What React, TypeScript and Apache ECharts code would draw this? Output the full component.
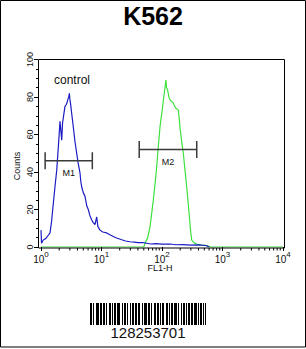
import React, { useEffect, useRef } from "react";
import * as echarts from "echarts";

const title = "K562";
const xAxisName = "FL1-H";
const yAxisName = "Counts";
const controlLabel = "control";
const barcodeText = "128253701";

// control (blue) histogram: [FL1-H, counts]
const controlData: [number, number][] = [
  [1.0, 9], [1.02, 2], [1.09, 3.7], [1.2, 4.5], [1.3, 6], [1.41, 7.5], [1.5, 14], [1.6, 23.5],
  [1.7, 32], [1.82, 41], [1.95, 55], [2.06, 67], [2.13, 62], [2.2, 57], [2.27, 66], [2.34, 69],
  [2.49, 75], [2.62, 76], [2.72, 77.5], [2.8, 79], [2.88, 80], [2.94, 82], [3.0, 79], [3.1, 75.7],
  [3.25, 70], [3.42, 64], [3.65, 56], [3.89, 50], [4.1, 45], [4.41, 39.5], [4.55, 35], [4.71, 32],
  [5.0, 29], [5.34, 27], [5.7, 22], [6.05, 20], [6.4, 17], [6.89, 14.4], [7.3, 13], [7.8, 12],
  [8.33, 16], [8.7, 11], [9.44, 9], [10.5, 8], [12.2, 7.5], [14, 6.4], [16, 5.5], [17.8, 4.8],
  [21, 4], [25, 3.2], [29.6, 2.8], [35, 2.6], [40, 2.3], [48, 2.4], [55.8, 2], [65, 1.6],
  [80, 1.8], [100, 1.5], [135, 1.6], [170, 1.2], [220, 1.3], [300, 1.0], [400, 1.1], [535, 0.8],
  [600, 0],
];

// sample (green) histogram
const sampleData: [number, number][] = [
  [1, 0], [50, 0], [52.4, 2], [58, 5], [63.4, 10.8], [67, 17], [71.8, 25], [77, 34], [81.7, 42.8],
  [87, 54], [92.7, 64], [97, 69], [101, 73], [105, 78], [109, 82], [113, 86], [116, 89], [119, 85],
  [124, 83.7], [130, 80], [136, 78.4], [145, 77.5], [154, 76.8], [162, 75], [170, 74], [186, 73],
  [192, 69], [198, 64], [210, 57], [225, 50], [240, 41], [256, 32], [270, 24], [283, 16.4],
  [296, 9], [310, 3.7], [340, 2.2], [375, 1.6], [450, 1.0], [548, 0.7], [650, 0], [10000, 0],
];

const markerNames = ["M1", "M2"];
const markerStart = [1.17, 42];
const markerEnd = [7.05, 375];
const markerLevel = [46, 52];

const minorTickValues: number[] = [];
[1, 10, 100, 1000].forEach((d) => {
  [2, 3, 4, 5, 6, 7, 8, 9].forEach((m) => minorTickValues.push(d * m));
});

const barcodePattern =
  "11010011101101101001101011011100101101001011011011001011101101001101101011001101011011101001011010110110111010110101";

const FONT = "'Liberation Sans', Arial, sans-serif";

export default function App() {
  const ref = useRef<HTMLDivElement>(null);
  useEffect(() => {
    if (!ref.current) return;
    const chart = echarts.init(ref.current, undefined, { renderer: "svg" });

    const barcodeRects: any[] = [];
    let i = 0;
    while (i < barcodePattern.length) {
      if (barcodePattern[i] === "1") {
        let j = i;
        while (j < barcodePattern.length && barcodePattern[j] === "1") j++;
        barcodeRects.push({
          type: "rect",
          shape: { x: 90 + i, y: 303, width: j - i, height: 22 },
          style: { fill: "#000" },
        });
        i = j;
      } else i++;
    }

    chart.setOption({
      animation: false,
      backgroundColor: "#fff",
      textStyle: { fontFamily: FONT },
      grid: { left: 41, right: 23, top: 59.5, bottom: 102 },
      xAxis: {
        type: "log",
        logBase: 10,
        min: 1,
        max: 10000,
        offset: 1,
        axisLine: { show: false },
        splitLine: { show: false },
        axisTick: { show: true, length: 4, lineStyle: { color: "#000" } },
        axisLabel: {
          margin: 2,
          formatter: (v: number) => `{b|10}{s|${Math.round(Math.log10(v))}}`,
          rich: {
            b: { fontSize: 10, color: "#111", fontFamily: FONT, lineHeight: 14, verticalAlign: "bottom" },
            s: { fontSize: 8, color: "#111", fontFamily: FONT, lineHeight: 14, verticalAlign: "top" },
          },
        },
      },
      yAxis: {
        type: "value",
        min: 0,
        max: 100,
        interval: 20,
        offset: 3,
        axisLine: { show: false },
        splitLine: { show: false },
        axisTick: { show: true, length: 4, lineStyle: { color: "#000" } },
        minorTick: { show: true, splitNumber: 4, length: 2, lineStyle: { color: "#000" } },
        axisLabel: { rotate: 90, fontSize: 9, color: "#111", margin: 4, fontFamily: FONT },
      },
      series: [
        {
          type: "line",
          data: sampleData,
          symbol: "none",
          lineStyle: { color: "#3de03d", width: 1.2 },
          z: 3,
        },
        {
          type: "line",
          data: controlData,
          symbol: "none",
          lineStyle: { color: "#1c1cc4", width: 1.2 },
          z: 4,
        },
        {
          type: "custom",
          data: minorTickValues.map((v) => [v, 0]),
          silent: true,
          clip: false,
          z: 5,
          renderItem: (_p: any, api: any) => {
            const pt = api.coord([api.value(0), 0]);
            return {
              type: "line",
              shape: { x1: pt[0], y1: pt[1] + 1, x2: pt[0], y2: pt[1] + 3.5 },
              style: { stroke: "#000", lineWidth: 1 },
            };
          },
        },
        {
          type: "custom",
          data: markerNames.map((n, k) => [markerStart[k], markerEnd[k], markerLevel[k]]),
          silent: true,
          clip: false,
          z: 6,
          renderItem: (p: any, api: any) => {
            const a = api.coord([api.value(0), api.value(2)]);
            const b = api.coord([api.value(1), api.value(2)]);
            const st = { stroke: "#3a3a3a", lineWidth: 1.5 };
            const h = 8.5;
            return {
              type: "group",
              children: [
                { type: "line", shape: { x1: a[0], y1: a[1], x2: b[0], y2: b[1] }, style: st },
                { type: "line", shape: { x1: a[0], y1: a[1] - h, x2: a[0], y2: a[1] + h }, style: st },
                { type: "line", shape: { x1: b[0], y1: b[1] - h, x2: b[0], y2: b[1] + h }, style: st },
                {
                  type: "text",
                  x: (a[0] + b[0]) / 2,
                  y: a[1] + 12,
                  style: {
                    text: markerNames[p.dataIndex],
                    fontSize: 9,
                    fontFamily: FONT,
                    fill: "#111",
                    align: "center",
                    verticalAlign: "middle",
                  },
                },
              ],
            };
          },
        },
      ],
      graphic: [
        {
          type: "rect",
          shape: { x: 0.5, y: 0.5, width: 305, height: 346.5 },
          style: { fill: "none", stroke: "#000", lineWidth: 1 },
          silent: true,
        },
        {
          type: "rect",
          shape: { x: 38.5, y: 59.5, width: 246, height: 188.5 },
          style: { fill: "none", stroke: "#000", lineWidth: 1 },
          silent: true,
          z: 10,
        },
        {
          type: "text",
          x: 153,
          y: 16,
          style: {
            text: title,
            fontSize: 25,
            fontWeight: "bold",
            fontFamily: FONT,
            fill: "#000",
            align: "center",
            verticalAlign: "middle",
          },
        },
        {
          type: "text",
          x: 72,
          y: 80,
          style: {
            text: controlLabel,
            fontSize: 12,
            fontFamily: FONT,
            fill: "#111",
            align: "center",
            verticalAlign: "middle",
          },
        },
        {
          type: "text",
          x: 17,
          y: 166,
          rotation: Math.PI / 2,
          style: {
            text: yAxisName,
            fontSize: 9,
            fontFamily: FONT,
            fill: "#111",
            align: "center",
            verticalAlign: "middle",
          },
        },
        {
          type: "text",
          x: 160,
          y: 268,
          style: {
            text: xAxisName,
            fontSize: 9,
            fontFamily: FONT,
            fill: "#111",
            align: "center",
            verticalAlign: "middle",
          },
        },
        ...barcodeRects,
        {
          type: "text",
          x: 148,
          y: 332,
          style: {
            text: barcodeText,
            fontSize: 15,
            fontFamily: FONT,
            fill: "#111",
            align: "center",
            verticalAlign: "middle",
          },
        },
      ],
    });
    return () => chart.dispose();
  }, []);
  return (
    <div
      ref={ref}
      style={{ position: "fixed", left: 0, top: 0, width: 306, height: 349, background: "#fff" }}
    />
  );
}
